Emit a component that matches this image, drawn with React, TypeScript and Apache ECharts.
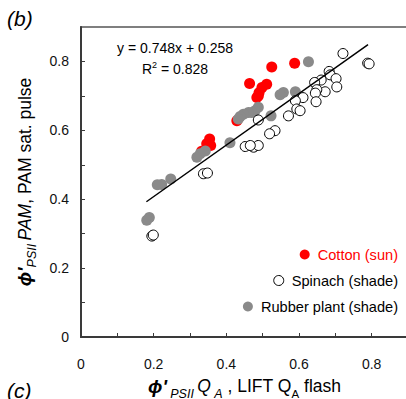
import React, { useEffect, useRef } from "react";
import * as echarts from "echarts";

// Quantum yield of PSII: LIFT QA flash (x) vs PAM saturation pulse (y)
const cottonSun: number[][] = [
  [0.588, 0.795], [0.525, 0.784], [0.464, 0.736], [0.511, 0.734], [0.498, 0.724],
  [0.490, 0.709], [0.488, 0.700], [0.484, 0.695], [0.429, 0.628], [0.354, 0.575],
  [0.357, 0.556], [0.346, 0.561], [0.332, 0.539],
];

const spinachShade: number[][] = [
  [0.721, 0.823], [0.789, 0.795], [0.793, 0.793], [0.683, 0.771], [0.686, 0.761],
  [0.702, 0.750], [0.661, 0.746], [0.643, 0.739], [0.704, 0.726], [0.672, 0.712],
  [0.649, 0.718], [0.645, 0.708], [0.611, 0.695], [0.590, 0.686], [0.647, 0.683],
  [0.594, 0.662], [0.603, 0.657], [0.571, 0.642], [0.534, 0.599], [0.519, 0.590],
  [0.488, 0.630], [0.475, 0.551], [0.488, 0.556], [0.452, 0.553], [0.466, 0.556],
  [0.337, 0.474], [0.348, 0.476], [0.195, 0.293], [0.199, 0.296],
];

const rubberPlantShade: number[][] = [
  [0.626, 0.799], [0.590, 0.712], [0.557, 0.710], [0.548, 0.703], [0.523, 0.642],
  [0.488, 0.667], [0.479, 0.657], [0.470, 0.652], [0.461, 0.652], [0.447, 0.647],
  [0.438, 0.640], [0.433, 0.633], [0.410, 0.564], [0.342, 0.540], [0.328, 0.532],
  [0.319, 0.522], [0.247, 0.459], [0.222, 0.443], [0.210, 0.442], [0.188, 0.347],
  [0.181, 0.339],
];

// Linear fit over all species
const fitSlope = 0.748;
const fitIntercept = 0.258;
const fitR2 = 0.828;
const fitXRange = [0.18, 0.79];

const labelledTicks = [0, 0.2, 0.4, 0.6, 0.8];

const FONT = "'Liberation Sans', Arial, sans-serif";
const AXIS_COLOR = "#3a3a3a";

const tickFormatter = (v: number) => {
  const hit = labelledTicks.find((t) => Math.abs(t - v) < 1e-6);
  return hit === undefined ? "" : String(hit);
};

const nameRich = {
  phi: { fontFamily: FONT, fontSize: 19, fontWeight: "bold", fontStyle: "italic", color: "#000", lineHeight: 24, verticalAlign: "middle" },
  sub: { fontFamily: FONT, fontSize: 12.5, fontStyle: "italic", color: "#000", lineHeight: 28, verticalAlign: "bottom" },
  subn: { fontFamily: FONT, fontSize: 11.5, color: "#000", lineHeight: 28, verticalAlign: "bottom" },
  it: { fontFamily: FONT, fontSize: 17.5, fontStyle: "italic", color: "#000", lineHeight: 24, verticalAlign: "middle" },
  n: { fontFamily: FONT, fontSize: 17.5, color: "#000", lineHeight: 24, verticalAlign: "middle" },
};

export default function App() {
  const ref = useRef<HTMLDivElement>(null);

  useEffect(() => {
    if (!ref.current) return;
    const chart = echarts.init(ref.current, undefined, { renderer: "svg" });

    const fitLine = fitXRange.map((x) => [x, fitSlope * x + fitIntercept]);

    const legendFor = (name: string, top: number, color: string) => ({
      data: [name],
      right: 8,
      top,
      padding: 0,
      icon: "circle",
      itemWidth: 10,
      itemHeight: 10,
      itemGap: 0,
      selectedMode: false,
      itemStyle: { borderWidth: 1 },
      textStyle: { fontFamily: FONT, fontSize: 14.6, color, padding: [0, 0, 0, 3] },
    });

    chart.setOption({
      animation: false,
      backgroundColor: "#fff",
      grid: {
        left: 81,
        top: 27,
        right: -2,
        bottom: 62,
        outerBoundsMode: "none",
        containLabel: false,
        show: true,
        borderColor: "#555",
        borderWidth: 1.5,
      },
      legend: [
        legendFor("Cotton (sun)", 247, "#ff0000"),
        legendFor("Spinach (shade)", 273, "#000"),
        legendFor("Rubber plant (shade)", 299, "#000"),
      ],
      xAxis: {
        type: "value",
        min: 0,
        max: 0.9,
        interval: 0.1,
        splitLine: { show: false },
        axisLine: { onZero: false, lineStyle: { color: AXIS_COLOR, width: 2 } },
        axisTick: { inside: true, length: 4, lineStyle: { color: AXIS_COLOR, width: 1 } },
        axisLabel: { formatter: tickFormatter, fontFamily: FONT, fontSize: 14, color: "#111", margin: 20, showMaxLabel: false },
        name: "{phi|ϕ'} {sub|PSII} {it|Q} {sub|A}{n| , LIFT Q}{subn|A}{n| flash}",
        nameLocation: "middle",
        nameGap: 35,
        nameTextStyle: { rich: nameRich },
      },
      yAxis: {
        type: "value",
        min: 0,
        max: 0.9,
        interval: 0.1,
        splitLine: { show: false },
        axisLine: { onZero: false, lineStyle: { color: AXIS_COLOR, width: 2 } },
        axisTick: { inside: true, length: 4, lineStyle: { color: AXIS_COLOR, width: 1 } },
        axisLabel: { formatter: tickFormatter, fontFamily: FONT, fontSize: 14, color: "#111", margin: 12, showMaxLabel: false },
        name: "{phi|ϕ'}{sub|PSII} {it|PAM}{n|, PAM sat. pulse}",
        nameLocation: "middle",
        nameGap: 42,
        nameTextStyle: { rich: nameRich },
      },
      graphic: [
        {
          type: "text",
          left: 7,
          top: 8,
          style: { text: "(b)", fontFamily: FONT, fontSize: 21, fontStyle: "italic", fill: "#000" },
        },
        {
          type: "text",
          left: 7,
          top: 380,
          style: { text: "(c)", fontFamily: FONT, fontSize: 21, fontStyle: "italic", fill: "#000" },
        },
        {
          type: "text",
          x: 175,
          y: 48,
          style: {
            text: `y = ${fitSlope}x + ${fitIntercept}`,
            fontFamily: FONT,
            fontSize: 14,
            fill: "#000",
            align: "center",
            verticalAlign: "middle",
          },
        },
        {
          type: "text",
          x: 175,
          y: 69,
          style: {
            text: `{n|R}{sup|2}{n| = ${fitR2}}`,
            align: "center",
            verticalAlign: "middle",
            rich: {
              n: { fontFamily: FONT, fontSize: 14, fill: "#000", lineHeight: 18, verticalAlign: "middle" },
              sup: { fontFamily: FONT, fontSize: 9, fill: "#000", lineHeight: 18, verticalAlign: "top" },
            },
          },
        },
      ],
      series: [
        {
          name: "Cotton (sun)",
          type: "scatter",
          data: cottonSun,
          symbol: "circle",
          symbolSize: 11,
          itemStyle: { color: "#ff0000", opacity: 1 },
          z: 3,
        },
        {
          name: "Rubber plant (shade)",
          type: "scatter",
          data: rubberPlantShade,
          symbol: "circle",
          symbolSize: 11,
          itemStyle: { color: "#8a8a8a", opacity: 1 },
          z: 4,
        },
        {
          name: "Spinach (shade)",
          type: "scatter",
          data: spinachShade,
          symbol: "circle",
          symbolSize: 10,
          itemStyle: { color: "#ffffff", borderColor: "#000", borderWidth: 1, opacity: 1 },
          z: 5,
        },
        {
          name: "fit",
          type: "line",
          data: fitLine,
          showSymbol: false,
          symbol: "none",
          lineStyle: { color: "#000", width: 1.5 },
          z: 6,
          silent: true,
        },
      ],
    });

    return () => chart.dispose();
  }, []);

  return (
    <div
      ref={ref}
      style={{ position: "fixed", left: 0, top: 0, width: 406, height: 399 }}
    />
  );
}
